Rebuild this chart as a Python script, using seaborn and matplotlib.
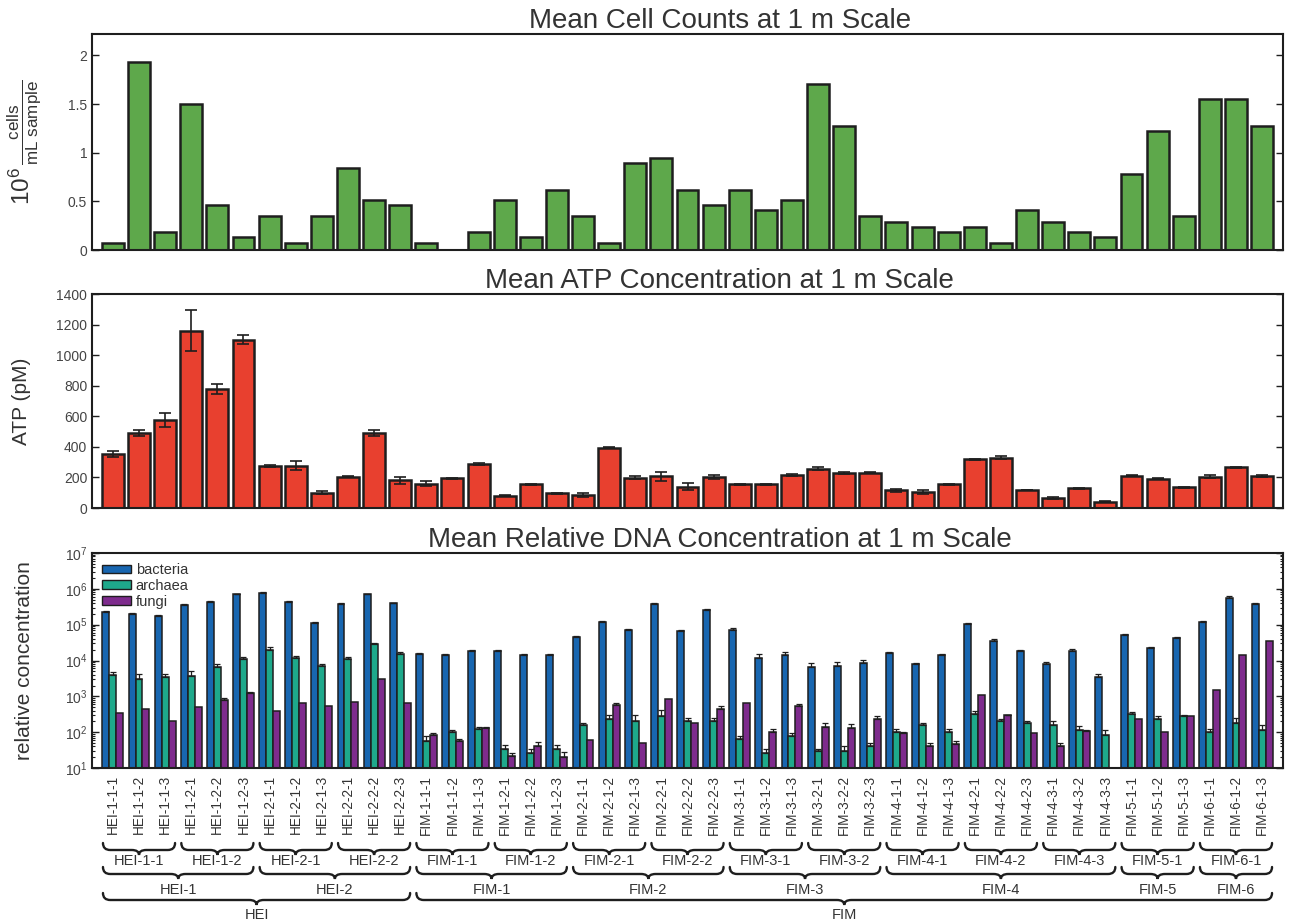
import numpy as np
import pandas as pd
import matplotlib
matplotlib.use("Agg")
import matplotlib.pyplot as plt
import matplotlib.transforms as mtransforms
from matplotlib.path import Path
from matplotlib.patches import PathPatch, Patch
from matplotlib.ticker import LogLocator, NullFormatter
import seaborn as sns

# ---------------- data ----------------
samples = [
    "HEI-1-1-1", "HEI-1-1-2", "HEI-1-1-3", "HEI-1-2-1", "HEI-1-2-2", "HEI-1-2-3",
    "HEI-2-1-1", "HEI-2-1-2", "HEI-2-1-3", "HEI-2-2-1", "HEI-2-2-2", "HEI-2-2-3",
    "FIM-1-1-1", "FIM-1-1-2", "FIM-1-1-3", "FIM-1-2-1", "FIM-1-2-2", "FIM-1-2-3",
    "FIM-2-1-1", "FIM-2-1-2", "FIM-2-1-3", "FIM-2-2-1", "FIM-2-2-2", "FIM-2-2-3",
    "FIM-3-1-1", "FIM-3-1-2", "FIM-3-1-3", "FIM-3-2-1", "FIM-3-2-2", "FIM-3-2-3",
    "FIM-4-1-1", "FIM-4-1-2", "FIM-4-1-3", "FIM-4-2-1", "FIM-4-2-2", "FIM-4-2-3",
    "FIM-4-3-1", "FIM-4-3-2", "FIM-4-3-3", "FIM-5-1-1", "FIM-5-1-2", "FIM-5-1-3",
    "FIM-6-1-1", "FIM-6-1-2", "FIM-6-1-3",
]

cells = [0.07, 1.93, 0.18, 1.50, 0.46, 0.13, 0.35, 0.07, 0.35, 0.84, 0.51, 0.46,
         0.07, np.nan, 0.18, 0.51, 0.13, 0.62, 0.35, 0.07, 0.89, 0.95, 0.62, 0.46,
         0.62, 0.41, 0.51, 1.71, 1.27, 0.35, 0.29, 0.24, 0.18, 0.24, 0.07, 0.41,
         0.29, 0.18, 0.13, 0.78, 1.22, 0.35, 1.55, 1.55, 1.27]

atp = [355, 490, 578, 1160, 778, 1100, 275, 278, 100, 205, 488, 180,
       160, 193, 288, 80, 155, 95, 85, 393, 197, 207, 140, 203,
       155, 155, 217, 258, 230, 232, 115, 105, 155, 318, 328, 118,
       66, 128, 40, 210, 190, 135, 205, 265, 210]
atp_err = [20, 20, 45, 135, 30, 30, 5, 30, 10, 5, 20, 20,
           15, 3, 8, 3, 3, 3, 10, 3, 10, 30, 25, 15,
           3, 5, 5, 8, 5, 5, 10, 12, 3, 5, 10, 3,
           8, 3, 3, 3, 3, 3, 10, 3, 8]

bacteria = [2.3e5, 2.0e5, 1.8e5, 3.6e5, 4.4e5, 7.0e5, 7.8e5, 4.4e5, 1.1e5, 3.8e5, 7.0e5, 3.9e5,
            1.5e4, 1.4e4, 1.9e4, 1.9e4, 1.4e4, 1.4e4, 4.4e4, 1.2e5, 7.3e4, 3.7e5, 6.5e4, 2.6e5,
            7.3e4, 1.2e4, 1.4e4, 6.6e3, 7.0e3, 8.3e3, 1.6e4, 7.9e3, 1.4e4, 1.04e5, 3.6e4, 1.85e4,
            7.8e3, 1.9e4, 3.4e3, 5.1e4, 2.25e4, 4.2e4, 1.22e5, 5.7e5, 3.7e5]
bacteria_err = [1.5e4, 1.5e4, 1.2e4, 2.5e4, 3e4, 4e4, 4e4, 3e4, 8e3, 2.5e4, 4e4, 2.5e4,
                1e3, 1e3, 1.2e3, 1.2e3, 1e3, 1e3, 3e3, 8e3, 5e3, 2.5e4, 5e3, 2e4,
                6e3, 3e3, 3.5e3, 1.8e3, 1.8e3, 2e3, 1.5e3, 8e2, 1e3, 7e3, 3e3, 1.5e3,
                1e3, 1.5e3, 7e2, 4e3, 2e3, 3e3, 8e3, 8e4, 2.5e4]

archaea = [4.0e3, 3.1e3, 3.4e3, 3.7e3, 6.8e3, 1.1e4, 2.0e4, 1.15e4, 7.2e3, 1.1e4, 2.8e4, 1.55e4,
           55, 100, 125, 35, 26, 33, 162, 230, 205, 290, 205, 205,
           66, 26, 78, 29, 30, 40, 100, 157, 100, 320, 200, 180,
           155, 116, 84, 325, 240, 275, 98, 180, 112]
archaea_err = [800, 1000, 900, 1300, 1000, 1800, 4500, 2000, 700, 1300, 2000, 2000,
               25, 15, 15, 10, 8, 10, 20, 80, 90, 120, 40, 40,
               10, 8, 15, 6, 10, 10, 20, 20, 25, 60, 30, 20,
               50, 30, 30, 40, 40, 30, 25, 70, 45]

fungi = [340, 430, 210, 510, 800, 1200, 380, 660, 540, 700, 3100, 640,
         82, 56, 130, 21, 42, 20, 62, 560, 50, 820, 180, 430,
         660, 100, 530, 138, 132, 230, 94, 42, 48, 1080, 295, 92,
         40, 108, np.nan, 230, 104, 280, 1500, 14000, 36000]
fungi_err = [0, 0, 0, 0, 100, 150, 0, 0, 0, 0, 0, 0,
             10, 10, 5, 5, 10, 8, 0, 80, 0, 0, 0, 100,
             0, 20, 80, 40, 35, 60, 10, 8, 8, 0, 15, 0,
             10, 10, 0, 0, 0, 0, 0, 0, 0]

taxa = ["bacteria", "archaea", "fungi"]

# ---------------- style ----------------
green = "#5ea84b"
red = "#e8402f"
taxa_colors = ["#1866b0", "#1ea98b", "#7e2b8d"]
edge = "#1e1e1e"
txt = "#333333"

sns.set_theme(style="white")
plt.rcParams["font.family"] = ["Liberation Sans", "DejaVu Sans"]
plt.rcParams["mathtext.fontset"] = "custom"
plt.rcParams["mathtext.rm"] = "Liberation Sans"
plt.rcParams["mathtext.it"] = "Liberation Sans:italic"
plt.rcParams["mathtext.bf"] = "Liberation Sans:bold"

W, H = 1290, 924
fig = plt.figure(figsize=(W / 100, H / 100), dpi=100)

def axes_px(left, top, right, bottom):
    return fig.add_axes([left / W, 1 - bottom / H, (right - left) / W, (bottom - top) / H])

ax1 = axes_px(92, 34, 1283, 250)
ax2 = axes_px(92, 294, 1283, 508)
ax3 = axes_px(92, 553, 1283, 768)

n = len(samples)
xlim = (-0.8, n - 0.2)
title_x = 0.527

# ---- top: cell counts ----
df_cells = pd.DataFrame({"sample": samples, "cells": cells})
sns.barplot(data=df_cells, x="sample", y="cells", order=samples, color=green,
            saturation=1, edgecolor=edge, linewidth=1.8, width=0.84,
            errorbar=None, ax=ax1)
ax1.set_ylim(0, 2.22)
ax1.set_yticks([0, 0.5, 1, 1.5, 2])
ax1.set_yticklabels(["0", "0.5", "1", "1.5", "2"])
ax1.set_ylabel(r"$10^6\,\frac{\mathrm{cells}}{\mathrm{mL\ sample}}$", fontsize=17.5, color=txt)
ax1.yaxis.set_label_coords(-0.040, 0.5)
ax1.set_title("Mean Cell Counts at 1 m Scale", fontsize=20, color=txt, pad=4, x=title_x)

# ---- middle: ATP ----
df_atp = pd.DataFrame({"sample": samples, "atp": atp, "err": atp_err})
sns.barplot(data=df_atp, x="sample", y="atp", order=samples, color=red,
            saturation=1, edgecolor=edge, linewidth=1.8, width=0.84,
            errorbar=None, ax=ax2)
ax2.errorbar(np.arange(n), df_atp["atp"], yerr=df_atp["err"], fmt="none",
             ecolor=edge, elinewidth=1.2, capsize=4, capthick=1.2, zorder=5)
ax2.set_ylim(0, 1400)
ax2.set_yticks(np.arange(0, 1401, 200))
ax2.set_ylabel("ATP (pM)", fontsize=15, color=txt)
ax2.yaxis.set_label_coords(-0.051, 0.5)
ax2.set_title("Mean ATP Concentration at 1 m Scale", fontsize=20, color=txt, pad=4, x=title_x)

# ---- bottom: DNA ----
df_dna = pd.DataFrame({"sample": samples, "bacteria": bacteria,
                       "archaea": archaea, "fungi": fungi})
df_long = df_dna.melt(id_vars="sample", var_name="taxon", value_name="value")
sns.barplot(data=df_long, x="sample", y="value", hue="taxon", order=samples,
            hue_order=taxa, palette=taxa_colors, saturation=1, edgecolor=edge,
            linewidth=1.1, width=0.8, errorbar=None, ax=ax3, legend=False)
ax3.set_yscale("log")
ax3.set_ylim(10, 1e7)
errs = {"bacteria": bacteria_err, "archaea": archaea_err, "fungi": fungi_err}
vals = {"bacteria": bacteria, "archaea": archaea, "fungi": fungi}
bw = 0.8 / 3
for k, t in enumerate(taxa):
    v = np.array(vals[t], dtype=float)
    e = np.array(errs[t], dtype=float)
    m = (e > 0) & np.isfinite(v)
    xs = np.arange(n)[m] + (k - 1) * bw
    ax3.errorbar(xs, v[m], yerr=[np.zeros(m.sum()), e[m]], fmt="none",
                 ecolor=edge, elinewidth=0.9, capsize=2.2, capthick=0.9, zorder=5)
ax3.yaxis.set_major_locator(LogLocator(base=10, numticks=10))
ax3.yaxis.set_minor_locator(LogLocator(base=10, subs=np.arange(2, 10), numticks=20))
ax3.yaxis.set_minor_formatter(NullFormatter())
ax3.set_ylabel("relative concentration", fontsize=15, color=txt)
ax3.yaxis.set_label_coords(-0.049, 0.5)
ax3.set_title("Mean Relative DNA Concentration at 1 m Scale", fontsize=20, color=txt,
              pad=4, x=title_x)
handles = [Patch(facecolor=c, edgecolor=edge, linewidth=1.0) for c in taxa_colors]
ax3.legend(handles, taxa, loc="upper left", bbox_to_anchor=(0.0, 1.0), frameon=False,
           fontsize=10.5, handlelength=2.0, handleheight=0.55, labelspacing=0.12,
           handletextpad=0.3, borderaxespad=0.3, labelcolor=txt)

# ---- common axis styling ----
for ax in (ax1, ax2, ax3):
    ax.set_xlim(*xlim)
    ax.set_xlabel("")
    for s in ax.spines.values():
        s.set_visible(True)
        s.set_color(edge)
        s.set_linewidth(1.5)
    ax.tick_params(axis="y", which="major", direction="in", left=True, right=True,
                   length=5, width=1.0, color=edge, labelsize=10, labelcolor="#444444")
    ax.tick_params(axis="y", which="minor", direction="in", left=True, right=True,
                   length=2.5, width=0.8, color=edge)
for ax in (ax1, ax2):
    ax.set_xticks([])

ax3.set_xticks(np.arange(n))
ax3.set_xticklabels(samples, rotation=90, fontsize=9.8, color=txt)
ax3.tick_params(axis="x", length=0, pad=5)

# ---- hierarchical braces ----
trans = mtransforms.blended_transform_factory(ax3.transData, fig.transFigure)

def fy(px):
    return 1 - px / H

def brace(x0, x1, y_end, y_line, y_tip, r=0.28):
    xm = 0.5 * (x0 + x1)
    verts = [(x0, y_end), (x0, y_line), (x0 + r, y_line),
             (xm - r, y_line),
             (xm, y_line), (xm, y_tip),
             (xm, y_line), (xm + r, y_line),
             (x1 - r, y_line),
             (x1, y_line), (x1, y_end)]
    codes = [Path.MOVETO, Path.CURVE3, Path.CURVE3,
             Path.LINETO,
             Path.CURVE3, Path.CURVE3,
             Path.CURVE3, Path.CURVE3,
             Path.LINETO,
             Path.CURVE3, Path.CURVE3]
    p = PathPatch(Path(verts, codes), transform=trans, fill=False,
                  edgecolor=edge, linewidth=1.7, clip_on=False, capstyle="round")
    ax3.add_patch(p)

def spans(keys):
    out = []
    start = 0
    for i in range(1, len(keys) + 1):
        if i == len(keys) or keys[i] != keys[start]:
            out.append((keys[start], start, i - 1))
            start = i
    return out

level1 = [s.rsplit("-", 1)[0] for s in samples]
level2 = [s.rsplit("-", 1)[0] for s in level1]
level3 = [s.split("-")[0] for s in samples]

rows = [
    (level1, 843, 850, 855, 861),
    (level2, 867, 874, 879, 890),
    (level3, 893, 900, 905, 915),
]
for keys, ye, yl, yt, ytext in rows:
    for name, i0, i1 in spans(keys):
        brace(i0 - 0.38, i1 + 0.38, fy(ye), fy(yl), fy(yt))
        ax3.text(0.5 * (i0 + i1), fy(ytext), name, transform=trans, ha="center",
                 va="center", fontsize=10.5, color=txt, clip_on=False)

fig.savefig("out.png", dpi=100)
